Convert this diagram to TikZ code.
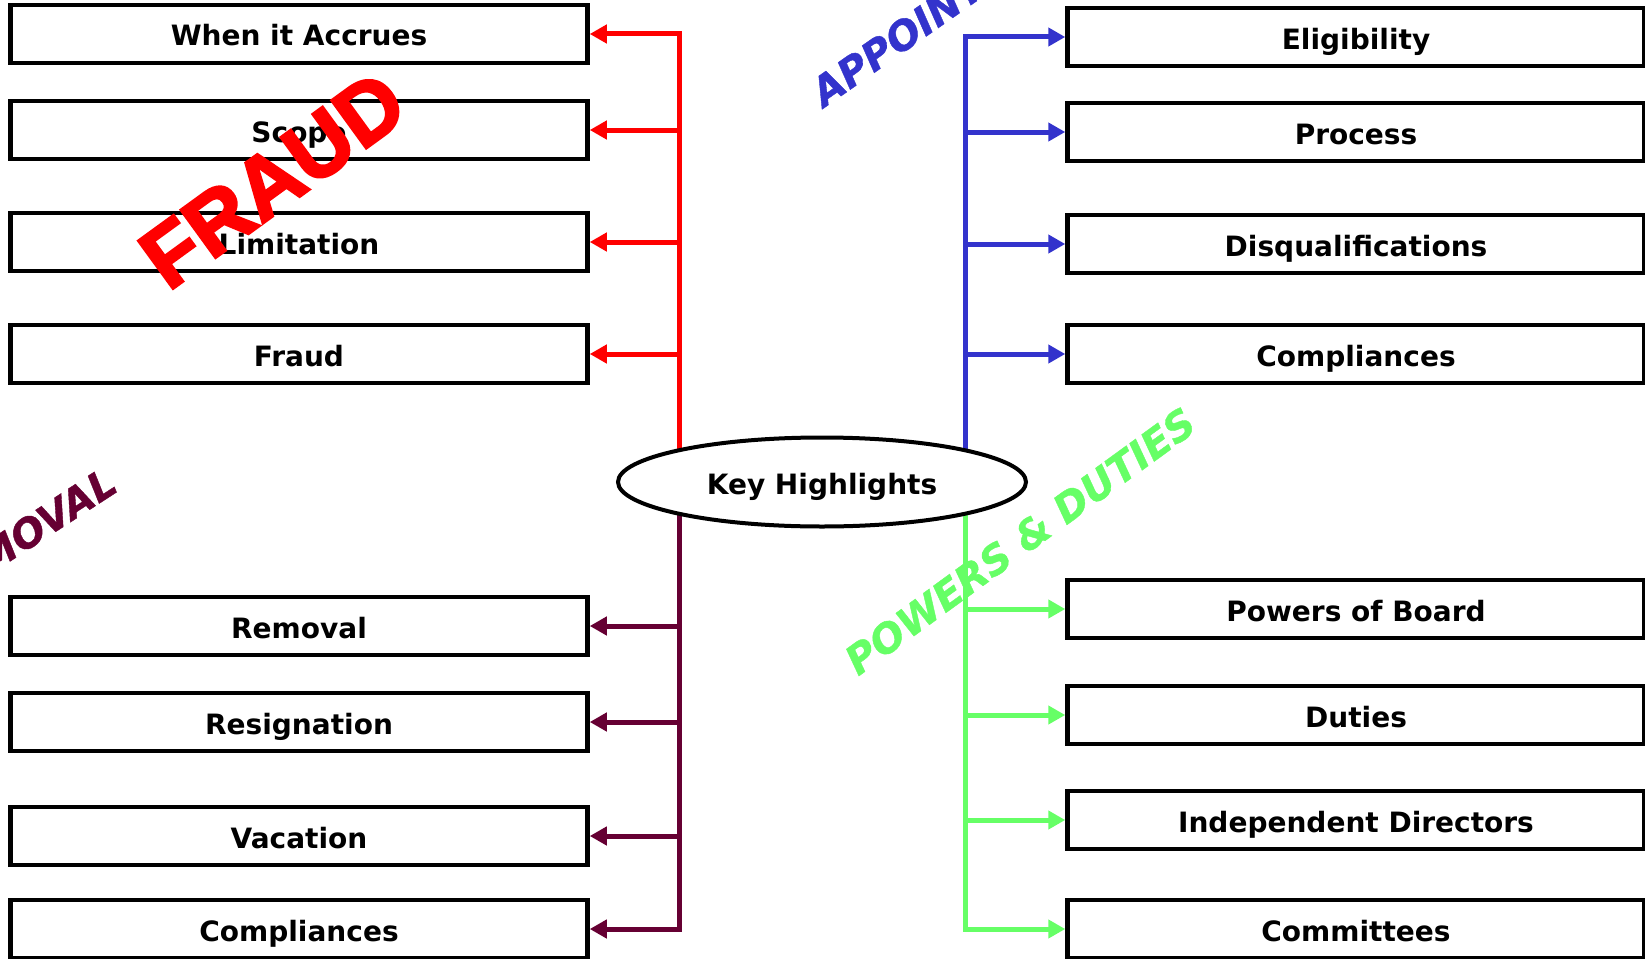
\documentclass[tikz,border=0pt]{standalone}
\usepackage{fontspec}
\setmainfont{DejaVu Sans}
\newfontfamily\stampfont{Liberation Sans}[BoldFeatures={FakeBold=3}]
\newfontfamily\slantfont{DejaVu Sans}[BoldItalicFeatures={FakeBold=1}]
\usetikzlibrary{arrows.meta,shapes.geometric,backgrounds}

\definecolor{fraudred}{HTML}{FF0000}
\definecolor{apptblue}{HTML}{3333CC}
\definecolor{remmaroon}{HTML}{660033}
\definecolor{powgreen}{HTML}{66FF66}

\tikzset{
  topic/.style={draw=black, line width=4.5pt, fill=white, rectangle,
    minimum width=577pt, minimum height=58pt, inner sep=0pt,
    text height=24pt, text depth=0pt,
    font=\fontsize{28}{32}\selectfont\bfseries},
  hub/.style={ellipse, draw=black, line width=4pt, fill=white,
    minimum width=408pt, minimum height=89pt, inner sep=0pt,
    text height=24pt, text depth=0pt,
    font=\fontsize{28}{32}\selectfont\bfseries},
  busline/.style={line width=5pt},
  branch/.style={busline, -{Triangle[length=17pt,width=18pt]}},
  sticker/.style={inner sep=0pt, font=\slantfont\fontsize{40}{42}\selectfont\bfseries\itshape}
}

\begin{document}
\begin{tikzpicture}[x=1pt,y=-1pt]
\useasboundingbox (0,0) rectangle (1645,958);

% central hub
\node[hub] (hub) at (822,482) {Key Highlights};

% left column, upper group
\node[topic] (accrues) at (299,34)  {When it Accrues};
\node[topic] (scope)   at (299,130) {Scope};
\node[topic] (limit)   at (299,242) {Limitation};
\node[topic] (fraud)   at (299,354) {Fraud};

% left column, lower group
\node[topic] (removal) at (299,626) {Removal};
\node[topic] (resign)  at (299,722) {Resignation};
\node[topic] (vacat)   at (299,836) {Vacation};
\node[topic] (lcompl)  at (299,929) {Compliances};

% right column, upper group
\node[topic] (elig)    at (1356,37)  {Eligibility};
\node[topic] (process) at (1356,132) {Process};
\node[topic] (disq)    at (1356,244) {Disqualifications};
\node[topic] (rcompl)  at (1356,354) {Compliances};

% right column, lower group
\node[topic] (powers)  at (1356,609) {Powers of Board};
\node[topic] (duties)  at (1356,715) {Duties};
\node[topic] (indep)   at (1356,820) {Independent Directors};
\node[topic] (commit)  at (1356,929) {Committees};

% bus positions
\coordinate (lbus) at (679,0);
\coordinate (rbus) at (965,0);

\begin{pgfonlayer}{background}
  % fraud branch
  \draw[branch, fraudred] (hub.center -| lbus) -- (accrues.east -| lbus) -- (accrues.east);
  \draw[branch, fraudred] (scope.east -| lbus) -- (scope.east);
  \draw[branch, fraudred] (limit.east -| lbus) -- (limit.east);
  \draw[branch, fraudred] (fraud.east -| lbus) -- (fraud.east);
  % removal branch
  \draw[branch, remmaroon] (hub.center -| lbus) -- (lcompl.east -| lbus) -- (lcompl.east);
  \draw[branch, remmaroon] (removal.east -| lbus) -- (removal.east);
  \draw[branch, remmaroon] (resign.east -| lbus) -- (resign.east);
  \draw[branch, remmaroon] (vacat.east -| lbus) -- (vacat.east);
  % appointment branch
  \draw[branch, apptblue] (hub.center -| rbus) -- (elig.west -| rbus) -- (elig.west);
  \draw[branch, apptblue] (process.west -| rbus) -- (process.west);
  \draw[branch, apptblue] (disq.west -| rbus) -- (disq.west);
  \draw[branch, apptblue] (rcompl.west -| rbus) -- (rcompl.west);
  % powers & duties branch
  \draw[branch, powgreen] (hub.center -| rbus) -- (commit.west -| rbus) -- (commit.west);
  \draw[branch, powgreen] (powers.west -| rbus) -- (powers.west);
  \draw[branch, powgreen] (duties.west -| rbus) -- (duties.west);
  \draw[branch, powgreen] (indep.west -| rbus) -- (indep.west);
\end{pgfonlayer}

% slanted branch titles
\node[inner sep=0pt, text=fraudred, rotate=36,
      font=\stampfont\fontsize{86}{88}\selectfont\bfseries] (tfraud) at (273,180) {FRAUD};
\node[sticker, text=apptblue, rotate=35, anchor=base west] (tappt) at (824,108) {APPOINTMENT};
\node[sticker, text=remmaroon, rotate=33, anchor=base east] (tremov) at (120,490) {REMOVAL};
\node[sticker, text=powgreen, rotate=36] (tpow) at (1020,541) {POWERS \& DUTIES};
\end{tikzpicture}
\end{document}
